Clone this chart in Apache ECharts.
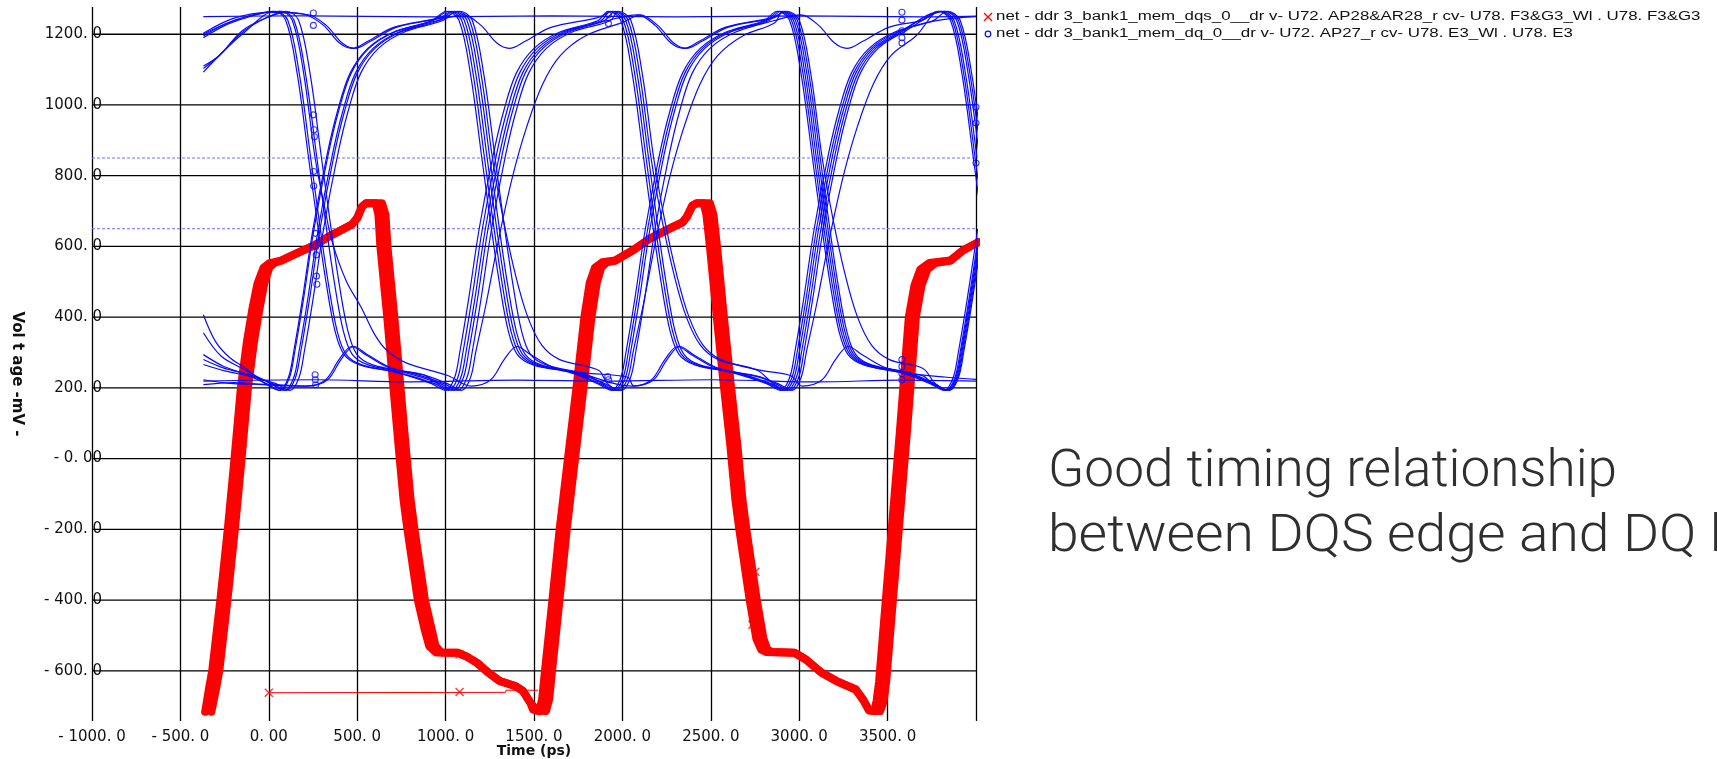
<!DOCTYPE html>
<html>
<head>
<meta charset="utf-8">
<script src="https://cdn.jsdelivr.net/npm/echarts@6/dist/echarts.min.js"></script>
<style>
html,body{margin:0;padding:0;background:#fff;}
#chart{width:1717px;height:759px;}
</style>
</head>
<body>
<div id="chart"></div>
<script>
// ---- axis ticks ----
const xTicks = [-1000, -500, 0, 500, 1000, 1500, 2000, 2500, 3000, 3500];
const xTickLabels = ['- 1000. 0', '- 500. 0', '0. 00', '500. 0', '1000. 0', '1500. 0', '2000. 0', '2500. 0', '3000. 0', '3500. 0'];
const yTicks = [-600, -400, -200, 0, 200, 400, 600, 800, 1000, 1200];
const yTickLabels = ['- 600. 0', '- 400. 0', '- 200. 0', '- 0. 00', '200. 0', '400. 0', '600. 0', '800. 0', '1000. 0', '1200. 0'];

// receiver threshold levels (mV)
const thresholdLevels = [850, 650];

// ---- DQS strobe (time ps, mV): early and late edges of the overlaid bundle ----
const dqsEarly = [
  [-360,-716],[-338,-650],[-320,-600],[-274,-400],[-232,-200],[-194,0],[-158,200],[-124,330],[-94,420],[-64,495],[-30,540],[5,553],
  [70,560],[160,581],[254,602],[330,625],[405,645],[470,662],[500,680],[527,712],[550,722],
  [605,722],[620,690],[631,600],[670,400],[705,200],[735,30],[762,-116],[784,-200],[843,-400],[880,-480],[907,-530],[945,-548],
  [1068,-549],[1120,-560],[1176,-577],[1241,-605],[1306,-629],[1393,-643],[1437,-657],[1479,-690],
  [1495,-710],[1530,-714],[1546,-680],[1562,-600],[1600,-420],[1645,-200],[1692,0],[1740,200],[1785,400],[1815,497],[1845,540],[1885,555],
  [1960,560],[2062,590],[2158,623],[2289,656],[2340,668],[2365,684],[2395,715],[2420,722],
  [2460,722],[2475,690],[2495,600],[2534,400],[2572,214],[2610,40],[2639,-116],[2661,-200],[2720,-400],[2758,-510],[2785,-540],[2815,-547],
  [2973,-549],[3038,-568],[3125,-605],[3211,-629],[3320,-653],[3363,-683],[3395,-712],
  [3425,-714],[3438,-685],[3452,-630],[3480,-460],[3510,-280],[3540,-100],[3570,80],[3595,240],[3620,400],[3652,490],[3685,535],[3735,553],
  [3855,560],[3930,590],[4013,612]
];
const dqsLate = [
  [-325,-716],[-298,-650],[-280,-600],[-234,-400],[-192,-200],[-154,0],[-118,200],[-84,330],[-54,420],[-26,495],[3,540],[30,553],
  [70,560],[160,581],[254,602],[330,625],[405,645],[470,662],[500,680],[527,712],[550,722],
  [640,722],[660,690],[671,600],[710,400],[745,200],[775,30],[802,-116],[824,-200],[883,-400],[920,-480],[943,-530],[975,-548],
  [1068,-549],[1120,-560],[1176,-577],[1241,-605],[1306,-629],[1393,-643],[1437,-657],[1479,-690],
  [1515,-712],[1568,-714],[1586,-680],[1602,-600],[1640,-420],[1685,-200],[1732,0],[1780,200],[1825,400],[1855,497],[1880,540],[1910,555],
  [1960,560],[2062,590],[2158,623],[2289,656],[2340,668],[2365,684],[2395,715],[2420,722],
  [2495,722],[2515,690],[2535,600],[2574,400],[2612,214],[2650,40],[2679,-116],[2701,-200],[2760,-400],[2798,-510],[2820,-540],[2845,-547],
  [2973,-549],[3038,-568],[3125,-605],[3211,-629],[3320,-653],[3363,-683],[3395,-712],
  [3458,-714],[3478,-685],[3492,-630],[3520,-460],[3550,-280],[3580,-100],[3610,80],[3635,240],[3660,400],[3692,490],[3725,535],[3770,553],
  [3855,560],[3930,590],[4013,612]
];
// measurement cursor line along the bottom
const dqsCursor = [[0,-662],[1339,-661],[1342,-655],[1523,-655]];
const dqsCursorMarks = [[0,-662],[1079,-660]];
const dqsMarks = [[1079,-554],[2752,-320],[2746,-370],[2740,-420],[2735,-470]];

// ---- DQ data traces (time ps, mV) ----
const dq01 = [[-370,1250],[200,1252],[900,1249],[1600,1252],[2300,1249],[3000,1252],[3700,1249],[4000,1251]];
const dq02 = [[-370,219],[260,223],[800,217],[1400,222],[1920,219],[2500,223],[3100,217],[3580,222],[4000,219]];
const dq03 = [[-370,1200],[-200,1238],
  [25,1265],[95,1240],[160,1090],[225,850],[275,665],[325,495],[375,360],[425,295],[515,265],[725,243],
  [920,212],[1000,193],[1050,228],[1080,300],[1130,450],[1190,650],[1270,860],[1330,985],[1400,1090],[1500,1160],[1640,1205],[1860,1238],
  [1920,1265],[1990,1240],[2055,1090],[2120,850],[2170,665],[2220,495],[2270,360],[2320,295],[2410,265],[2620,243],
  [2815,212],[2895,193],[2945,228],[2975,300],[3025,450],[3085,650],[3165,860],[3225,985],[3295,1090],[3395,1160],[3535,1205],[3755,1238],
  [3840,1265],[3910,1240],[3975,1090],[4040,850]];
const dq04 = [[-370,407],[-300,330],[-220,285],[-130,255],
  [-20,212],[60,193],[110,228],[140,300],[190,450],[250,650],[330,860],[390,985],[460,1090],[560,1160],[700,1205],[920,1238],
  [1005,1265],[1075,1240],[1140,1090],[1205,850],[1255,665],[1305,495],[1355,360],[1405,295],[1495,265],[1705,243],
  [1860,212],[1940,193],[1990,228],[2020,300],[2070,450],[2130,650],[2210,860],[2270,985],[2340,1090],[2440,1160],[2580,1205],[2800,1238],
  [2875,1265],[2945,1240],[3010,1090],[3075,850],[3125,665],[3175,495],[3225,360],[3275,295],[3365,265],[3575,243],
  [3740,212],[3820,193],[3870,228],[3900,300],[3950,450],[4010,650]];
const dq05 = [[-370,1093],[-280,1140],[-150,1200],
  [37,1265],[107,1240],[172,1090],[237,850],[287,665],[337,495],[387,360],[437,295],[527,265],[737,243],
  [938,212],[1018,193],[1068,228],[1098,300],[1148,450],[1208,650],[1288,860],[1348,985],[1418,1090],[1518,1160],[1658,1205],[1878,1238],
  [1934,1265],[2004,1240],[2069,1090],[2134,850],[2184,665],[2234,495],[2284,360],[2334,295],[2424,265],[2634,243],
  [2828,212],[2908,193],[2958,228],[2988,300],[3038,450],[3098,650],[3178,860],[3238,985],[3308,1090],[3408,1160],[3548,1205],[3768,1238],[4000,1250]];
const dq06 = [[-370,294],[-260,262],[-140,240],
  [-14,212],[66,193],[116,228],[146,300],[196,450],[256,650],[336,860],[396,985],[466,1090],[566,1160],[706,1205],[926,1238],
  [1020,1265],[1090,1240],[1155,1090],[1220,850],[1270,665],[1320,495],[1370,360],[1420,295],[1510,265],[1720,243],
  [1873,212],[1953,193],[2003,228],[2033,300],[2083,450],[2143,650],[2223,860],[2283,985],[2353,1090],[2453,1160],[2593,1205],[2813,1238],
  [2886,1265],[2956,1240],[3021,1090],[3086,850],[3136,665],[3186,495],[3236,360],[3286,295],[3376,265],[3586,243],[3836,230],[4000,224]];
const dq07 = [[-370,1195],[-200,1238],
  [62,1265],[132,1240],[197,1090],[262,850],[320,700],[360,610],[440,500],[520,430],[600,350],[670,305],[780,270],[1012,235],
  [1144,205],[1254,222],[1334,282],[1404,317],[1484,293],[1624,255],[1800,236],
  [1886,212],[1966,193],[2016,228],[2046,300],[2096,450],[2156,650],[2236,860],[2296,985],[2366,1090],[2466,1160],[2606,1205],[2826,1238],
  [2897,1265],[2967,1240],[3032,1090],[3097,850],[3147,665],[3197,495],[3247,360],[3297,295],[3387,265],[3597,243],
  [3750,212],[3830,193],[3880,228],[3910,300],[3960,450],[4020,650]];
const dq08 = [[-370,356],[-270,290],[-150,255],
  [10,212],[90,193],[140,228],[170,300],[220,450],[280,650],[360,860],[420,985],[490,1090],[590,1160],[730,1205],[950,1238],
  [1100,1255],[1200,1225],[1290,1175],[1360,1160],[1450,1180],[1600,1220],[1860,1247],
  [1948,1265],[2018,1240],[2083,1090],[2148,850],[2198,665],[2248,495],[2298,360],[2348,295],[2438,265],[2648,243],
  [2840,212],[2920,193],[2970,228],[3000,300],[3050,450],[3110,650],[3190,860],[3250,985],[3320,1090],[3420,1160],[3560,1205],
  [3820,1265],[3890,1240],[3955,1090],[4020,850]];
const dq09 = [[-370,1110],[-280,1140],[-150,1210],[-20,1245],[100,1262],
  [210,1255],[310,1225],[400,1175],[470,1160],[560,1180],[710,1220],[970,1247],
  [1035,1265],[1105,1240],[1170,1090],[1235,850],[1285,665],[1335,495],[1385,360],[1435,295],[1525,265],[1735,243],
  [1900,212],[1980,193],[2030,228],[2060,300],[2120,440],[2190,620],[2270,800],[2350,940],[2440,1060],[2540,1140],[2680,1195],[2860,1232],
  [2908,1265],[2978,1240],[3043,1090],[3108,850],[3158,665],[3208,495],[3258,360],[3308,295],[3398,265],[3608,243],
  [3760,212],[3840,193],[3890,228],[3920,300],[3970,450],[4030,650]];
const dq10 = [[-370,209],[-200,215],[0,208],
  [221,205],[331,222],[411,282],[481,317],[561,293],[701,255],[880,236],
  [955,212],[1035,193],[1085,228],[1115,300],[1165,450],[1225,650],[1305,860],[1365,985],[1435,1090],[1535,1160],[1675,1205],[1895,1238],
  [1962,1265],[2032,1240],[2097,1090],[2162,850],[2222,680],[2292,520],[2362,400],[2442,320],[2542,280],[2762,250],
  [2853,212],[2933,193],[2983,228],[3013,300],[3063,450],[3123,650],[3203,860],[3263,985],[3333,1090],[3433,1160],[3573,1205],
  [3805,1265],[3875,1240],[3940,1090],[4005,850]];
const dq11 = [[-370,1190],[-200,1235],
  [72,1265],[142,1240],[207,1090],[272,850],[322,665],[372,495],[422,360],[472,295],[562,265],[772,243],
  [970,212],[1050,193],[1100,228],[1130,300],[1180,450],[1240,650],[1320,860],[1380,985],[1450,1090],[1550,1160],[1690,1205],[1910,1238],
  [2085,1255],[2185,1225],[2275,1175],[2345,1160],[2435,1180],[2585,1220],[2845,1247],
  [2930,1265],[3000,1240],[3065,1090],[3130,850],[3190,680],[3260,520],[3330,400],[3410,320],[3510,280],[3700,255],
  [3770,212],[3850,193],[3900,228],[3930,300],[3980,450],[4040,650]];
const dq12 = [[-370,280],[-250,255],[-100,236],
  [20,212],[100,193],[150,228],[180,300],[230,450],[290,650],[370,860],[430,985],[500,1090],[600,1160],[740,1205],[960,1238],
  [1050,1265],[1120,1240],[1185,1090],[1250,850],[1300,665],[1350,495],[1400,360],[1450,295],[1540,265],[1750,243],
  [2053,205],[2163,222],[2243,282],[2313,317],[2393,293],[2533,255],[2763,232],
  [2880,212],[2960,193],[3010,228],[3040,300],[3100,440],[3170,620],[3250,800],[3330,940],[3420,1060],[3520,1140],[3660,1195],
  [3795,1265],[3865,1240],[3930,1090],[3995,850],[4045,665]];
const dq13 = [[-370,1103],[-280,1140],[-150,1205],[-20,1245],
  [98,1265],[168,1240],[233,1090],[298,850],[348,665],[398,495],[448,360],[498,295],[588,265],[798,243],
  [990,212],[1070,193],[1120,228],[1150,300],[1200,450],[1260,650],[1340,860],[1400,985],[1470,1090],[1570,1160],[1710,1205],[1930,1238],
  [1977,1265],[2047,1240],[2112,1090],[2177,850],[2237,680],[2307,520],[2377,400],[2457,320],[2557,280],[2777,250],[2950,235],
  [3018,205],[3128,222],[3208,282],[3278,317],[3358,293],[3498,255],[3700,234],
  [3755,212],[3835,193],[3885,228],[3915,300],[3965,450],[4025,650]];
const dq14 = [[-370,266],[-250,248],[-100,232],
  [40,212],[120,193],[170,228],[200,300],[250,450],[310,650],[390,860],[450,985],[520,1090],[620,1160],[760,1205],[980,1238],
  [1065,1265],[1135,1240],[1200,1090],[1265,850],[1325,680],[1395,520],[1465,400],[1545,320],[1645,280],[1865,250],
  [1915,212],[1995,193],[2045,228],[2075,300],[2125,450],[2185,650],[2265,860],[2325,985],[2395,1090],[2495,1160],[2635,1205],[2855,1238],
  [3010,1255],[3110,1225],[3200,1175],[3270,1160],[3360,1180],[3510,1220],[3700,1240],
  [3785,1265],[3855,1240],[3920,1090],[3985,850],[4035,665]];
const dq15 = [[-370,1203],[-200,1245],[0,1262],
  [225,1255],[325,1225],[415,1175],[485,1160],[575,1180],[725,1220],[985,1247],
  [1080,1265],[1150,1240],[1215,1090],[1280,850],[1330,665],[1380,495],[1430,360],[1480,295],[1570,265],[1780,243],[2030,230],
  [2065,205],[2175,222],[2255,282],[2325,317],[2405,293],[2545,255],[2775,232],
  [2866,212],[2946,193],[2996,228],[3026,300],[3076,450],[3136,650],[3216,860],[3276,985],[3346,1090],[3446,1160],[3586,1205],
  [3830,1265],[3900,1240],[3965,1090],[4030,850]];
const dq16 = [[-370,223],[-200,212],[0,210],
  [210,205],[320,222],[400,282],[470,317],[550,293],[690,255],[880,236],
  [1010,212],[1090,193],[1140,228],[1170,300],[1230,440],[1300,620],[1380,800],[1460,940],[1550,1060],[1650,1140],[1790,1195],[2010,1235],
  [2100,1255],[2200,1225],[2290,1175],[2360,1160],[2450,1180],[2600,1220],[2860,1247],
  [2919,1265],[2989,1240],[3054,1090],[3119,850],[3169,665],[3219,495],[3269,360],[3319,295],[3409,265],[3619,243],
  [3765,212],[3845,193],[3895,228],[3925,300],[3975,450],[4035,650]];
const dqTraces = [dq01, dq02, dq03, dq04, dq05, dq06, dq07, dq08, dq09, dq10, dq11, dq12, dq13, dq14, dq15, dq16];

// sample markers on the DQ traces
const dqMarks = [
  [252,972],[256,930],[258,910],[254,812],[254,771],[264,637],[266,600],[268,576],[270,516],[272,493],
  [262,237],[263,223],[265,209],[252,1260],[252,1225],
  [1921,1255],[1921,1230],[1917,232],[1922,223],
  [3581,1262],[3581,1240],[3581,1210],[3581,1190],[3581,1175],[3581,280],[3581,260],[3581,240],[3581,223],
  [4000,994],[4000,949],[4000,836]
];

const DQS_NAME = 'net - ddr 3_bank1_mem_dqs_0__dr v- U72. AP28&AR28_r cv- U78. F3&G3_Wl . U78. F3&G3';
const DQ_NAME = 'net - ddr 3_bank1_mem_dq_0__dr v- U72. AP27_r cv- U78. E3_Wl . U78. E3';
const RED = '#ff0000';
const BLUE = '#0a0aff';
const AXIS_FONT = '"DejaVu Sans", sans-serif';

const series = [];

// horizontal grid lines
yTicks.forEach(v => {
  series.push({
    type: 'line', data: [[-1000, v], [4000, v]], showSymbol: false, silent: true, z: 1,
    lineStyle: { color: '#000', width: 1.3 }
  });
});
// threshold guides
thresholdLevels.forEach(v => {
  series.push({
    type: 'line', data: [[-1000, v], [4000, v]], showSymbol: false, silent: true, z: 2,
    lineStyle: { color: '#7070ff', width: 1, type: [3, 2] }
  });
});
// DQS bundle
[dqsEarly, dqsLate].forEach(d => {
  series.push({
    type: 'line', name: DQS_NAME, data: d, showSymbol: false, silent: true, z: 3,
    lineStyle: { color: RED, width: 8, cap: 'round', join: 'round' }
  });
});
series.push({
  type: 'line', data: dqsCursor, showSymbol: false, silent: true, z: 3,
  lineStyle: { color: RED, width: 1 }
});
// DQ traces
dqTraces.forEach(d => {
  series.push({
    type: 'line', name: DQ_NAME, data: d, showSymbol: false, silent: true, z: 4,
    smooth: 0.35,
    lineStyle: { color: BLUE, width: 1.2 }
  });
});
// markers
const crossPath = 'path://M0,0L10,10M10,0L0,10';
series.push({
  type: 'scatter', data: dqsCursorMarks.concat(dqsMarks), symbol: crossPath, symbolSize: 8, silent: true, z: 5,
  itemStyle: { color: 'rgba(0,0,0,0)', borderColor: RED, borderWidth: 1.3 }
});
series.push({
  type: 'scatter', data: dqMarks, symbol: 'circle', symbolSize: 6, silent: true, z: 5,
  itemStyle: { color: 'rgba(0,0,0,0)', borderColor: BLUE, borderWidth: 1.1 }
});

const chart = echarts.init(document.getElementById('chart'), null, { renderer: 'canvas' });
chart.setOption({
  animation: false,
  backgroundColor: '#fff',
  grid: { left: 92, right: 741, top: 7, bottom: 38, outerBoundsMode: 'none', containLabel: false },
  xAxis: {
    type: 'value', min: -1000, max: 4000, interval: 500,
    name: 'Time (ps)', nameLocation: 'middle', nameGap: 23, nameMoveOverlap: false,
    nameTextStyle: { fontFamily: AXIS_FONT, fontWeight: 'bold', fontSize: 14, color: '#111' },
    axisLine: { show: false }, axisTick: { show: false },
    splitLine: { show: true, lineStyle: { color: '#000', width: 1.3 } },
    axisLabel: {
      margin: 9, fontFamily: AXIS_FONT, fontSize: 15, color: '#111',
      formatter: v => { const i = xTicks.indexOf(v); return i >= 0 ? xTickLabels[i] : ''; }
    }
  },
  yAxis: {
    type: 'value', min: -742, max: 1277,
    name: 'Vol t age -mV -', nameLocation: 'middle', nameGap: 68, nameRotate: -90, nameMoveOverlap: false,
    nameTextStyle: { fontFamily: AXIS_FONT, fontWeight: 'bold', fontSize: 15, color: '#111', padding: [0, 0, 0, 20] },
    axisLine: { show: false }, axisTick: { show: false },
    splitLine: { show: false },
    axisLabel: {
      margin: -10, fontFamily: AXIS_FONT, fontSize: 15, color: '#111',
      customValues: yTicks,
      formatter: v => { const i = yTicks.indexOf(v); return i >= 0 ? yTickLabels[i] : ''; }
    }
  },
  series: series,
  graphic: [
    { type: 'line', shape: { x1: 984, y1: 13, x2: 992, y2: 21 }, style: { stroke: RED, lineWidth: 1.3 } },
    { type: 'line', shape: { x1: 992, y1: 13, x2: 984, y2: 21 }, style: { stroke: RED, lineWidth: 1.3 } },
    { type: 'circle', shape: { cx: 988, cy: 34, r: 2.8 }, style: { stroke: BLUE, fill: 'none', lineWidth: 1.2 } },
    { type: 'text', x: 996, y: 17, scaleX: 1.35,
      style: { text: DQS_NAME, font: '12.5px "Liberation Sans", Arial, sans-serif', fill: '#111', verticalAlign: 'middle', align: 'left' } },
    { type: 'text', x: 996, y: 34, scaleX: 1.35,
      style: { text: DQ_NAME, font: '12.5px "Liberation Sans", Arial, sans-serif', fill: '#111', verticalAlign: 'middle', align: 'left' } },
    { type: 'text', x: 1048, y: 473, scaleX: 1.042,
      style: { text: 'Good timing relationship', font: '300 51px Roboto, sans-serif', fill: '#2f2f2f', verticalAlign: 'middle', align: 'left' } },
    { type: 'text', x: 1048, y: 538, scaleX: 1.082,
      style: { text: 'between DQS edge and DQ bits', font: '300 51px Roboto, sans-serif', fill: '#2f2f2f', verticalAlign: 'middle', align: 'left' } }
  ]
});
</script>
</body>
</html>
